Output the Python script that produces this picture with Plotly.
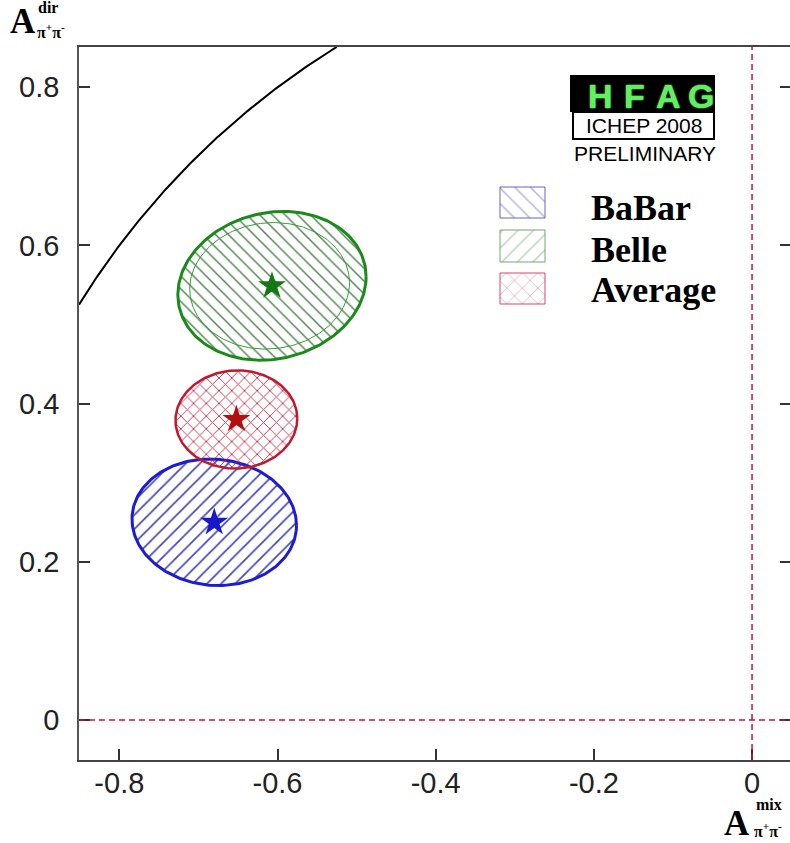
import numpy as np
import plotly.graph_objects as go

# ---------------- data ----------------
experiments = ["BaBar", "Belle", "Average"]
a_mix = [-0.68, -0.607, -0.652]         # star / ellipse centres (x)
a_dir = [0.250, 0.549, 0.380]           # star / ellipse centres (y)
sig_mix = [0.104, 0.119, 0.077]         # ellipse half-extent in x
sig_dir = [0.080, 0.094, 0.062]         # ellipse half-extent in y
corr = [-0.05, 0.12, 0.02]              # correlation (tilt)
# Belle inner (statistical only) contour
belle_stat = dict(sig_mix=0.101, sig_dir=0.080, corr=0.05)

x_ticks = [-0.8, -0.6, -0.4, -0.2, 0.0]
x_ticklabels = ["-0.8", "-0.6", "-0.4", "-0.2", "0"]
y_ticks = [0.0, 0.2, 0.4, 0.6, 0.8]
y_ticklabels = ["0", "0.2", "0.4", "0.6", "0.8"]
x_range = [-0.851, 0.048]
y_range = [-0.0506, 0.851]
boundary_radius = 1.0   # physical boundary A_mix^2 + A_dir^2 = 1

# ---------------- styles ----------------
line_cols = ["#1c1cd2", "#1b8a1b", "#c3182c"]
hatch_cols = ["#3030b0", "#3a763a", "#c02040"]
legend_hatch_cols = ["#6464d0", "#6fa86f", "#d04a6a"]
star_cols = ["#1818c8", "#137813", "#b01010"]
plot_patterns = ["/", "\\", "x"]
legend_patterns = ["\\", "/", "x"]
pattern_sizes = [10, 9, 9]
pattern_solidity = [0.17, 0.16, 0.2]
line_widths = [3, 3, 2.5]

W, H = 790, 843
L, R, T, B = 79, 0, 47, 83


def fx(px):
    return (px - L) / (W - L - R)


def fy(py):
    return (H - B - py) / (H - T - B)


def ellipse(cx, cy, sx, sy, rho, n=240):
    t = np.linspace(0, 2 * np.pi, n)
    x = cx + sx * np.cos(t)
    y = cy + sy * (rho * np.cos(t) + np.sqrt(1 - rho ** 2) * np.sin(t))
    return x, y


fig = go.Figure()

# physical boundary
bx = np.linspace(x_range[0], -np.sqrt(boundary_radius ** 2 - y_range[1] ** 2), 200)
by = np.sqrt(boundary_radius ** 2 - bx ** 2)
fig.add_trace(go.Scatter(x=bx, y=by, mode="lines",
                         line=dict(color="black", width=2), hoverinfo="skip"))

# ellipses
for i, name in enumerate(experiments):
    ex, ey = ellipse(a_mix[i], a_dir[i], sig_mix[i], sig_dir[i], corr[i])
    fig.add_trace(go.Scatter(
        x=ex, y=ey, mode="lines", fill="toself",
        fillcolor="rgba(0,0,0,0)",
        fillpattern=dict(shape=plot_patterns[i], fgcolor=hatch_cols[i],
                         size=pattern_sizes[i], solidity=pattern_solidity[i],
                         fgopacity=0.9),
        line=dict(color=line_cols[i], width=line_widths[i]),
        name=name, hoverinfo="skip"))
    if name == "Belle":
        ix, iy = ellipse(a_mix[i] - 0.003, a_dir[i], belle_stat["sig_mix"],
                         belle_stat["sig_dir"], belle_stat["corr"])
        fig.add_trace(go.Scatter(x=ix, y=iy, mode="lines",
                                 line=dict(color="#3c9a3c", width=1),
                                 hoverinfo="skip"))

# stars
for i, name in enumerate(experiments):
    fig.add_trace(go.Scatter(
        x=[a_mix[i]], y=[a_dir[i]], mode="markers",
        marker=dict(symbol="star", size=21, color=star_cols[i],
                    line=dict(width=0)),
        hoverinfo="skip"))

# legend boxes (on an overlay axis in plot-fraction units)
leg_x0, leg_x1 = fx(500), fx(545)
leg_rows = [(187, 218), (230, 262), (273, 304)]
for i, name in enumerate(experiments):
    y0, y1 = fy(leg_rows[i][1]), fy(leg_rows[i][0])
    fig.add_trace(go.Scatter(
        x=[leg_x0, leg_x1, leg_x1, leg_x0, leg_x0],
        y=[y0, y0, y1, y1, y0], mode="lines", fill="toself",
        fillcolor="rgba(0,0,0,0)",
        fillpattern=dict(shape=legend_patterns[i], fgcolor=legend_hatch_cols[i],
                         size=11, solidity=0.13),
        line=dict(color=legend_hatch_cols[i], width=1),
        xaxis="x2", yaxis="y2", hoverinfo="skip"))

# invisible trace to hold right-side tick axis
fig.add_trace(go.Scatter(x=[x_range[0]], y=[y_range[0]], mode="markers",
                         marker=dict(opacity=0), yaxis="y3", hoverinfo="skip"))

tick_font = dict(family="Liberation Sans, Arial, sans-serif", size=29, color="#222")

fig.update_layout(
    width=W, height=H,
    margin=dict(l=L, r=R, t=T, b=B, pad=0),
    paper_bgcolor="white", plot_bgcolor="white",
    showlegend=False,
    xaxis=dict(range=x_range, tickvals=x_ticks, ticktext=x_ticklabels,
               ticks="inside", ticklen=11, tickwidth=1.5, tickcolor="#333",
               showline=True, linecolor="#444", linewidth=1.5, mirror=True,
               showgrid=False, zeroline=False, tickfont=tick_font,
               ticklabelstandoff=-4),
    yaxis=dict(range=y_range, tickvals=y_ticks, ticktext=y_ticklabels,
               ticks="inside", ticklen=11, tickwidth=1.5, tickcolor="#333",
               showline=True, linecolor="#555", linewidth=1.5,
               showgrid=False, zeroline=False, tickfont=tick_font,
               ticklabelstandoff=12),
    yaxis3=dict(range=y_range, overlaying="y", side="right", anchor="x",
                tickvals=y_ticks, ticks="inside", ticklen=10, tickwidth=1.5,
                tickcolor="#333", showticklabels=False, showline=False,
                showgrid=False, zeroline=False),
    xaxis2=dict(range=[0, 1], overlaying="x", anchor="y2", visible=False),
    yaxis2=dict(range=[0, 1], overlaying="y", anchor="x2", visible=False),
)

# dashed reference lines
dash_col = "#c8103c"
fig.add_shape(type="line", xref="x", yref="y domain", x0=0, x1=0, y0=0, y1=1,
              line=dict(color=dash_col, width=1.5, dash="6px,4px"))
fig.add_shape(type="line", xref="x domain", yref="y", x0=0, x1=1, y0=0, y1=0,
              line=dict(color=dash_col, width=1.5, dash="6px,4px"))

# HFAG logo
fig.add_shape(type="rect", xref="paper", yref="paper",
              x0=fx(570), x1=fx(715), y0=fy(112), y1=fy(75),
              fillcolor="black", line=dict(width=0))
fig.add_shape(type="rect", xref="paper", yref="paper",
              x0=fx(573), x1=fx(714), y0=fy(139), y1=fy(112),
              fillcolor="white", line=dict(color="black", width=2))
for letter, cxp in zip(["H", "F", "A", "G"], [600, 634, 668, 701]):
    fig.add_annotation(text=letter, xref="paper", yref="paper",
                       x=fx(cxp), y=fy(96), xanchor="center", yanchor="middle",
                       showarrow=False,
                       font=dict(family="Liberation Sans, Arial", size=34,
                                 color="#5cf25c", weight="bold",
                                 shadow="0px 0px 2px #c8ffc8"))
fig.add_annotation(text="ICHEP 2008", xref="paper", yref="paper",
                   x=fx(644), y=fy(126), xanchor="center", yanchor="middle",
                   showarrow=False,
                   font=dict(family="Liberation Sans, Arial", size=21, color="black"))
fig.add_annotation(text="PRELIMINARY", xref="paper", yref="paper",
                   x=fx(645), y=fy(154), xanchor="center", yanchor="middle",
                   showarrow=False,
                   font=dict(family="Liberation Sans, Arial", size=21, color="black"))

# legend labels
serif_b = dict(family="Liberation Serif, Times New Roman, serif", size=36,
               color="black", weight="bold")
for name, row in zip(experiments, [208, 250, 290]):
    fig.add_annotation(text=name, xref="paper", yref="paper",
                       x=fx(589), y=fy(row), xanchor="left", yanchor="middle",
                       showarrow=False, font=serif_b)

# axis titles
big_a = dict(family="Liberation Serif, Times New Roman, serif", size=35,
             color="black", weight="bold")
small = dict(family="Liberation Serif, Times New Roman, serif", size=16,
             color="black", weight="bold")
# y title
fig.add_annotation(text="A", xref="paper", yref="paper", x=fx(8), y=fy(22),
                   xanchor="left", yanchor="middle", showarrow=False, font=big_a)
fig.add_annotation(text="dir", xref="paper", yref="paper", x=fx(37), y=fy(7),
                   xanchor="left", yanchor="middle", showarrow=False, font=small,
                   borderpad=0)
fig.add_annotation(text="π<sup>+</sup>π<sup>-</sup>", xref="paper", yref="paper",
                   x=fx(36), y=fy(31), xanchor="left", yanchor="middle",
                   showarrow=False, font=small, borderpad=0)
# x title
fig.add_annotation(text="A", xref="paper", yref="paper", x=fx(722), y=fy(823),
                   xanchor="left", yanchor="middle", showarrow=False, font=big_a)
fig.add_annotation(text="mix", xref="paper", yref="paper", x=fx(755), y=fy(805),
                   xanchor="left", yanchor="middle", showarrow=False, font=small,
                   borderpad=0)
fig.add_annotation(text="π<sup>+</sup>π<sup>-</sup>", xref="paper", yref="paper",
                   x=fx(753), y=fy(830), xanchor="left", yanchor="middle",
                   showarrow=False, font=small, borderpad=0)

fig.write_html("out.html")
